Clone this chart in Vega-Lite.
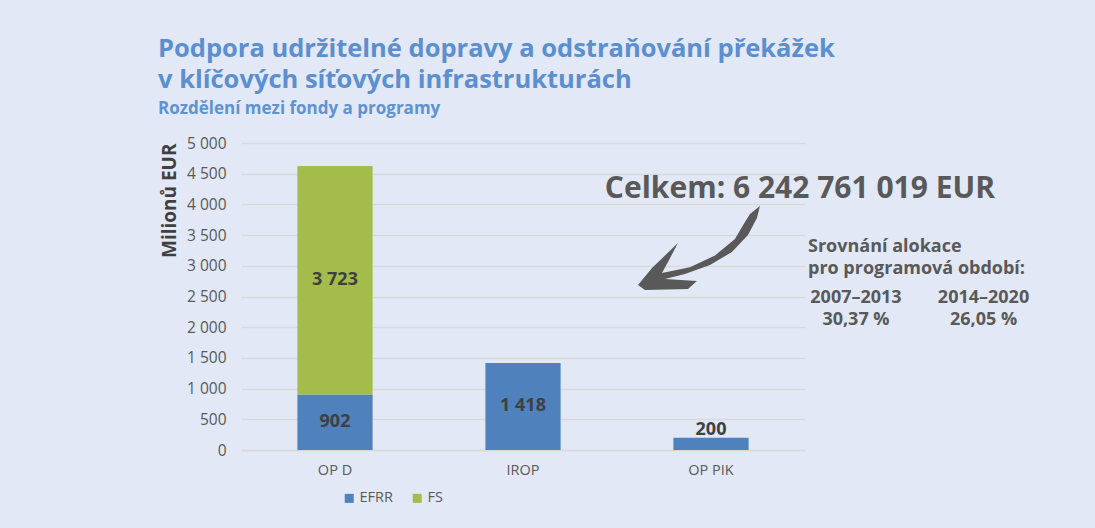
{
  "$schema": "https://vega.github.io/schema/vega-lite/v6.json",
  "width": 564,
  "height": 307,
  "autosize": {"type": "none"},
  "padding": {"left": 241, "top": 143, "right": 290, "bottom": 78},
  "background": "#e2e8f6",
  "config": {
    "font": "Open Sans",
    "view": {"stroke": null},
    "axis": {"labelFont": "Open Sans", "titleFont": "Open Sans"},
    "legend": {"labelFont": "Open Sans"}
  },
  "title": {
    "text": ["Podpora udržitelné dopravy a odstraňování překážek", "v klíčových síťových infrastrukturách"],
    "subtitle": "Rozdělení mezi fondy a programy",
    "anchor": "start",
    "frame": "group",
    "dx": -83,
    "font": "Open Sans",
    "fontSize": 25.5,
    "fontWeight": "bold",
    "color": "#5b8fd0",
    "lineHeight": 31,
    "subtitleFont": "Open Sans",
    "subtitleFontSize": 17,
    "subtitleFontWeight": "bold",
    "subtitleColor": "#5e93d3",
    "subtitlePadding": 8,
    "offset": 19
  },
  "data": {
    "values": [
      {"program": "OP D", "fond": "EFRR", "value": 902},
      {"program": "OP D", "fond": "FS", "value": 3723},
      {"program": "IROP", "fond": "EFRR", "value": 1418},
      {"program": "OP PIK", "fond": "EFRR", "value": 200}
    ]
  },
  "layer": [
    {
      "mark": {"type": "bar"},
      "encoding": {
        "x": {
          "field": "program",
          "type": "nominal",
          "sort": ["OP D", "IROP", "OP PIK"],
          "scale": {"paddingInner": 0.6, "paddingOuter": 0.3},
          "axis": {
            "title": null,
            "labelAngle": 0,
            "labelFontSize": 14.5,
            "labelColor": "#595959",
            "labelPadding": 13,
            "ticks": false,
            "domain": true,
            "domainColor": "#d9d9d9",
            "domainWidth": 1.5
          }
        },
        "y": {
          "field": "value",
          "type": "quantitative",
          "stack": "zero",
          "scale": {"domain": [0, 5000]},
          "axis": {
            "title": "Milionů EUR",
            "titleFontSize": 19,
            "titleFontWeight": "bold",
            "titleColor": "#404040",
            "titleAnchor": "end",
            "titlePadding": 7,
            "values": [0, 500, 1000, 1500, 2000, 2500, 3000, 3500, 4000, 4500, 5000],
            "tickCount": 12,
            "labelOverlap": false,
            "labelExpr": "replace(format(datum.value, ','), ',', ' ')",
            "labelFontSize": 15.5,
            "labelColor": "#595959",
            "labelPadding": 15,
            "ticks": false,
            "domain": false,
            "grid": true,
            "gridColor": "#d9d9d9",
            "gridWidth": 1.5
          }
        },
        "color": {
          "field": "fond",
          "type": "nominal",
          "scale": {"domain": ["EFRR", "FS"], "range": ["#4f81bd", "#a3bc4a"]},
          "legend": {
            "title": null,
            "orient": "none",
            "legendX": 101,
            "legendY": 348,
            "direction": "horizontal",
            "symbolType": "square",
            "symbolSize": 81,
            "symbolStrokeWidth": 0,
            "labelFontSize": 14.5,
            "labelColor": "#595959",
            "labelOffset": 3,
            "columnPadding": 17
          }
        },
        "order": {"field": "fond", "sort": "ascending"}
      }
    },
    {
      "transform": [
        {"stack": "value", "groupby": ["program"], "sort": [{"field": "fond", "order": "ascending"}], "as": ["v0", "v1"]},
        {"calculate": "datum.value < 300 ? datum.v1 + 126 : (datum.v0 + datum.v1) / 2", "as": "ly"},
        {"calculate": "replace(format(datum.value, ','), ',', ' ')", "as": "lbl"}
      ],
      "mark": {"type": "text", "font": "Open Sans", "fontSize": 18, "fontWeight": "bold", "color": "#404040", "baseline": "middle"},
      "encoding": {
        "x": {"field": "program", "type": "nominal", "sort": ["OP D", "IROP", "OP PIK"], "axis": null},
        "y": {"field": "ly", "type": "quantitative"},
        "text": {"field": "lbl"}
      }
    },
    {
      "data": {"values": [{}]},
      "mark": {"type": "text", "text": "Celkem: 6 242 761 019 EUR", "font": "Open Sans", "fontSize": 30, "fontWeight": "bold", "color": "#595959", "align": "center", "baseline": "alphabetic"},
      "encoding": {
        "x": {"datum": 0.991, "type": "quantitative", "scale": {"domain": [0, 1]}, "axis": null},
        "y": {"datum": 4104, "type": "quantitative"}
      }
    },
    {
      "data": {"values": [{}]},
      "mark": {"type": "text", "text": ["Srovnání alokace", "pro programová období:"], "lineHeight": 22, "font": "Open Sans", "fontSize": 18, "fontWeight": "bold", "color": "#595959", "align": "left", "baseline": "alphabetic"},
      "encoding": {
        "x": {"datum": 1.0053, "type": "quantitative", "scale": {"domain": [0, 1]}, "axis": null},
        "y": {"datum": 3225, "type": "quantitative"}
      }
    },
    {
      "data": {"values": [{}]},
      "mark": {"type": "text", "text": ["2007–2013", "30,37 %"], "lineHeight": 22, "font": "Open Sans", "fontSize": 18, "fontWeight": "bold", "color": "#595959", "align": "center", "baseline": "alphabetic"},
      "encoding": {
        "x": {"datum": 1.0904, "type": "quantitative", "scale": {"domain": [0, 1]}, "axis": null},
        "y": {"datum": 2394, "type": "quantitative"}
      }
    },
    {
      "data": {"values": [{}]},
      "mark": {"type": "text", "text": ["2014–2020", "26,05 %"], "lineHeight": 22, "font": "Open Sans", "fontSize": 18, "fontWeight": "bold", "color": "#595959", "align": "center", "baseline": "alphabetic"},
      "encoding": {
        "x": {"datum": 1.3165, "type": "quantitative", "scale": {"domain": [0, 1]}, "axis": null},
        "y": {"datum": 2394, "type": "quantitative"}
      }
    },
    {
      "data": {"values": [{}]},
      "mark": {
        "type": "point",
        "shape": "M1,-0.672 L0.951,-0.475 L0.803,-0.197 L0.541,0.082 L0.18,0.295 L-0.23,0.443 L-0.557,0.525 L-0.033,0.557 L-0.18,0.689 L-0.885,0.705 L-1,0.623 L-0.77,0.344 L-0.344,-0.066 L-0.508,0.246 L-0.607,0.426 L-0.148,0.33 L0.262,0.14 L0.59,-0.13 L0.754,-0.41 L0.836,-0.541 Z",
        "size": 14884,
        "filled": true,
        "color": "#595959",
        "opacity": 1,
        "strokeWidth": 0
      },
      "encoding": {
        "x": {"datum": 0.812, "type": "quantitative", "scale": {"domain": [0, 1]}, "axis": null},
        "y": {"datum": 3306, "type": "quantitative"}
      }
    }
  ],
  "resolve": {"scale": {"x": "independent"}, "axis": {"x": "independent"}}
}
